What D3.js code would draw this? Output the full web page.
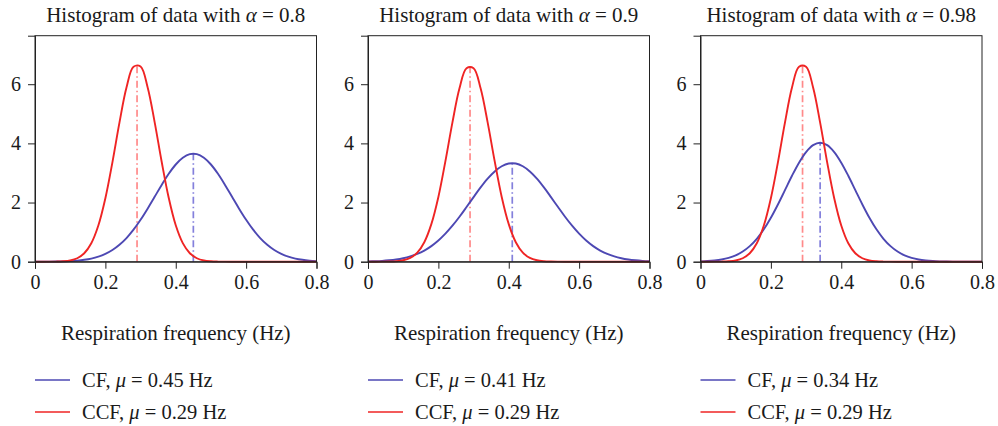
<!DOCTYPE html>
<html>
<head>
<meta charset="utf-8">
<script src="https://cdn.jsdelivr.net/npm/d3@7"></script>
<style>
  body { margin: 0; background: #fff; }
  text { fill: #1a1a1a; }
</style>
</head>
<body>
<svg width="998" height="426"></svg>
<script>
// frequency grid the curves were read at (Hz)
const freq = [0, 0.02, 0.04, 0.06, 0.08, 0.10, 0.12, 0.14, 0.16, 0.18,
  0.20, 0.22, 0.24, 0.26, 0.28, 0.30, 0.32, 0.34, 0.36, 0.38,
  0.40, 0.42, 0.44, 0.46, 0.48, 0.50, 0.52, 0.54, 0.56, 0.58,
  0.60, 0.62, 0.64, 0.66, 0.68, 0.70, 0.72, 0.74, 0.76, 0.78, 0.80];

// alpha = 0.8
const cf08 = [0.001, 0.002, 0.003, 0.006, 0.011, 0.021, 0.037, 0.064, 0.106, 0.170,
  0.263, 0.394, 0.571, 0.799, 1.082, 1.416, 1.793, 2.194, 2.595, 2.971,
  3.286, 3.514, 3.635, 3.635, 3.514, 3.286, 2.971, 2.595, 2.194, 1.793,
  1.416, 1.082, 0.799, 0.571, 0.394, 0.263, 0.170, 0.106, 0.064, 0.037, 0.021];
const ccf08 = [0, 0, 0.001, 0.004, 0.014, 0.042, 0.116, 0.285, 0.624, 1.223,
  2.145, 3.36, 4.70, 5.89, 6.59, 6.60, 5.90, 4.72, 3.38, 2.16,
  1.23, 0.628, 0.287, 0.117, 0.042, 0.014, 0.004, 0.001, 0, 0,
  0, 0, 0, 0, 0, 0, 0, 0, 0, 0, 0];

// alpha = 0.9
const cf09 = [0.010, 0.017, 0.028, 0.047, 0.075, 0.117, 0.178, 0.263, 0.377, 0.527,
  0.716, 0.947, 1.216, 1.520, 1.848, 2.184, 2.511, 2.808, 3.052, 3.227,
  3.318, 3.318, 3.227, 3.052, 2.808, 2.511, 2.184, 1.848, 1.520, 1.216,
  0.947, 0.716, 0.527, 0.377, 0.263, 0.178, 0.117, 0.075, 0.047, 0.028, 0.017];
const ccf09 = [0, 0, 0.001, 0.005, 0.016, 0.048, 0.128, 0.306, 0.659, 1.27,
  2.19, 3.40, 4.71, 5.86, 6.54, 6.54, 5.86, 4.71, 3.40, 2.19,
  1.27, 0.659, 0.306, 0.128, 0.048, 0.016, 0.005, 0.001, 0, 0,
  0, 0, 0, 0, 0, 0, 0, 0, 0, 0, 0];

// alpha = 0.98
const cf098 = [0.011, 0.022, 0.042, 0.075, 0.130, 0.215, 0.344, 0.527, 0.775, 1.095,
  1.485, 1.934, 2.418, 2.904, 3.348, 3.706, 3.939, 4.02, 3.939, 3.706,
  3.348, 2.904, 2.418, 1.934, 1.485, 1.095, 0.775, 0.527, 0.344, 0.215,
  0.130, 0.075, 0.042, 0.022, 0.011, 0.006, 0.003, 0.001, 0.001, 0, 0];
const ccf098 = [0, 0, 0.001, 0.004, 0.014, 0.042, 0.116, 0.285, 0.624, 1.223,
  2.145, 3.36, 4.70, 5.89, 6.59, 6.59, 5.89, 4.70, 3.36, 2.145,
  1.223, 0.624, 0.285, 0.116, 0.042, 0.014, 0.004, 0.001, 0, 0,
  0, 0, 0, 0, 0, 0, 0, 0, 0, 0, 0];

const alphas = ["0.8", "0.9", "0.98"];
const cfSeries = [cf08, cf09, cf098];
const ccfSeries = [ccf08, ccf09, ccf098];
const muCF = [0.45, 0.41, 0.34];
const muCCF = [0.29, 0.29, 0.29];
const peakCF = [3.65, 3.33, 4.02];
const peakCCF = [6.68, 6.63, 6.68];
const xTicks = [0, 0.2, 0.4, 0.6, 0.8];
const yTicks = [0, 2, 4, 6];

const blue = "#4d48b3", red = "#ef2424";
const blueDash = "#8480dc", redDash = "#ff8a8a";
const serif = "'Liberation Serif', 'DejaVu Serif', serif";

const svg = d3.select("svg").style("font-family", serif);
const panelLeft = [35, 368, 700.5];
const pw = 281.5, plotTop = 35.7, plotBottom = 261.7;

const y = d3.scaleLinear().domain([0, 7.64]).range([plotBottom, plotTop]);

alphas.forEach((a, i) => {
  const x = d3.scaleLinear().domain([0, 0.8]).range([panelLeft[i], panelLeft[i] + pw]);
  const g = svg.append("g");

  const line = d3.line()
    .x((d, k) => x(freq[k]))
    .y(d => y(d))
    .curve(d3.curveCatmullRom);

  // mean markers
  g.append("line")
    .attr("x1", x(muCCF[i])).attr("x2", x(muCCF[i]))
    .attr("y1", y(0)).attr("y2", y(peakCCF[i]))
    .attr("stroke", redDash).attr("stroke-width", 1.7)
    .attr("stroke-dasharray", "7,3,1.5,3");
  g.append("line")
    .attr("x1", x(muCF[i])).attr("x2", x(muCF[i]))
    .attr("y1", y(0)).attr("y2", y(peakCF[i]))
    .attr("stroke", blueDash).attr("stroke-width", 1.7)
    .attr("stroke-dasharray", "7,3,1.5,3");

  g.append("path").datum(cfSeries[i])
    .attr("d", line).attr("fill", "none")
    .attr("stroke", blue).attr("stroke-width", 1.9);
  g.append("path").datum(ccfSeries[i])
    .attr("d", line).attr("fill", "none")
    .attr("stroke", red).attr("stroke-width", 1.9);

  // box
  g.append("rect")
    .attr("x", panelLeft[i]).attr("y", plotTop)
    .attr("width", pw).attr("height", plotBottom - plotTop)
    .attr("fill", "none").attr("stroke", "#222").attr("stroke-width", 1);

  const xAxis = g.append("g").attr("transform", `translate(0,${plotBottom})`)
    .call(d3.axisBottom(x).tickValues(xTicks).tickSize(7).tickPadding(6)
      .tickFormat(d => d === 0 ? "0" : d3.format(".1f")(d)));
  const yAxis = g.append("g").attr("transform", `translate(${panelLeft[i]},0)`)
    .call(d3.axisLeft(y).tickValues(yTicks).tickSize(7).tickPadding(7));
  [xAxis, yAxis].forEach(ax => {
    ax.attr("font-family", serif).attr("font-size", 20);
    ax.select(".domain").attr("stroke", "#222");
    ax.selectAll(".tick line").attr("stroke", "#222");
    ax.selectAll("text").style("font-family", serif).attr("fill", "#1a1a1a");
  });

  const cx = panelLeft[i] + pw / 2;
  const title = g.append("text").attr("x", cx).attr("y", 22)
    .attr("text-anchor", "middle").attr("font-size", 21);
  title.append("tspan").text("Histogram of data with ");
  title.append("tspan").attr("font-style", "italic").text("α");
  title.append("tspan").text(" = " + a);

  g.append("text").attr("x", cx).attr("y", 340)
    .attr("text-anchor", "middle").attr("font-size", 21)
    .text("Respiration frequency (Hz)");

  // legend
  const leg = [["CF", muCF[i], blue], ["CCF", muCCF[i], red]];
  leg.forEach((l, k) => {
    const ly = 380 + k * 32;
    g.append("line")
      .attr("x1", panelLeft[i]).attr("x2", panelLeft[i] + 35)
      .attr("y1", ly).attr("y2", ly)
      .attr("stroke", l[2]).attr("stroke-width", 1.5);
    const t = g.append("text").attr("x", panelLeft[i] + 47).attr("y", ly + 6.5)
      .attr("font-size", 20.5);
    t.append("tspan").text(l[0] + ", ");
    t.append("tspan").attr("font-style", "italic").text("μ");
    t.append("tspan").text(" = " + d3.format(".2f")(l[1]) + " Hz");
  });
});
</script>
</body>
</html>
